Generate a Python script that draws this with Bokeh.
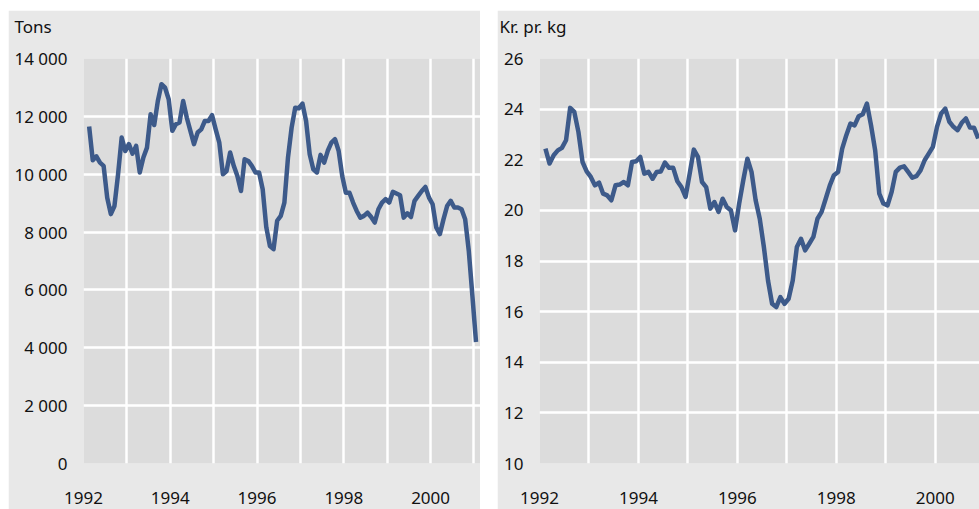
from bokeh.plotting import figure
from bokeh.models import Range1d, FixedTicker, Title
from bokeh.layouts import row
from bokeh.embed import file_html
from bokeh.resources import INLINE

# ---- data (monthly) ----
tons_start = 1992.13   # first month position (decimal year)
tons = [11650, 10480, 10620, 10400, 10290, 9190, 8620, 8900, 10000, 11270,
        10800, 11040, 10710, 10980, 10060, 10580, 10920, 12070, 11700, 12530,
        13110, 12990, 12590, 11500, 11730, 11790, 12530, 11960, 11500, 11040,
        11440, 11550, 11840, 11840, 12040, 11550, 11090, 10000, 10110, 10750,
        10290, 9940, 9420, 10520, 10460, 10290, 10060, 10060, 9480, 8160,
        7520, 7410, 8390, 8560, 9020, 10580, 11610, 12300, 12280, 12440,
        11840, 10690, 10170, 10060, 10670, 10400, 10810, 11090, 11210, 10810,
        9940, 9360, 9360, 9020, 8730, 8500, 8560, 8670, 8520, 8330,
        8790, 9020, 9140, 9020, 9390, 9330, 9270, 8500, 8650, 8520,
        9080, 9250, 9420, 9560, 9190, 8960, 8160, 7930, 8440, 8900,
        9080, 8850, 8850, 8790, 8440, 7350, 5800, 4200]

price_start = 1992.12
price = [22.44, 21.85, 22.18, 22.37, 22.47, 22.77, 24.05, 23.89, 23.10, 21.91,
         21.54, 21.32, 20.99, 21.10, 20.66, 20.59, 20.40, 20.99, 21.02, 21.12,
         20.99, 21.91, 21.94, 22.11, 21.45, 21.52, 21.25, 21.52, 21.54, 21.89,
         21.68, 21.68, 21.15, 20.92, 20.53, 21.45, 22.40, 22.11, 21.12, 20.92,
         20.07, 20.33, 19.94, 20.46, 20.13, 20.00, 19.21, 20.27, 21.19, 22.04,
         21.52, 20.40, 19.67, 18.55, 17.23, 16.31, 16.18, 16.57, 16.31, 16.51,
         17.23, 18.55, 18.88, 18.42, 18.68, 18.95, 19.67, 19.94, 20.46, 20.99,
         21.39, 21.52, 22.44, 22.97, 23.43, 23.36, 23.72, 23.80, 24.22, 23.36,
         22.37, 20.66, 20.27, 20.20, 20.73, 21.52, 21.69, 21.74, 21.52, 21.29,
         21.35, 21.58, 21.98, 22.24, 22.51, 23.30, 23.82, 24.02, 23.50, 23.30,
         23.17, 23.46, 23.63, 23.27, 23.26, 22.84]

x_label_years = [1992, 1994, 1996, 1998, 2000]
x_grid_years = [1993, 1995, 1997, 1999, 2001]
tons_ticks = [0, 2000, 4000, 6000, 8000, 10000, 12000, 14000]
tons_tick_labels = ["0", "2 000", "4 000", "6 000", "8 000", "10 000", "12 000", "14 000"]
price_ticks = [10, 12, 14, 16, 18, 20, 22, 24, 26]
left_title = "Tons"
right_title = "Kr. pr. kg"

# ---- style ----
FONT = "Noto Sans"
LINE = "#3d5a8a"
OUTER = "#e8e8e8"
INNER = "#dcdcdc"
TXT = "#111111"


def make_panel(xs, ys, x_end, y_rng, yticks, yover, width, left_border, title, title_dx):
    p = figure(width=width, height=499, title=None,
               x_range=Range1d(1992, x_end), y_range=Range1d(*y_rng),
               output_backend="svg", toolbar_location=None,
               min_border_left=left_border, min_border_right=0,
               min_border_top=48, min_border_bottom=46,
               background_fill_color=INNER, border_fill_color=OUTER,
               outline_line_color=None)
    p.line(xs, ys, line_color=LINE, line_width=4.5, line_join="round")

    # empty spacer panel next to the frame lifts the heading up
    p.add_layout(Title(text=" ", text_font=FONT, text_font_size="14px",
                       standoff=0, align="left"), "above")
    p.add_layout(Title(text=title, align="left", offset=title_dx, standoff=0,
                       text_font=FONT, text_font_size="17px",
                       text_font_style="normal", text_color=TXT), "above")

    xa = p.xaxis[0]
    xa.ticker = FixedTicker(ticks=x_label_years, minor_ticks=x_grid_years)
    ya = p.yaxis[0]
    ya.ticker = FixedTicker(ticks=yticks)
    if yover:
        ya.major_label_overrides = yover
    for ax in (xa, ya):
        ax.axis_line_color = None
        ax.major_tick_line_color = None
        ax.minor_tick_line_color = None
        ax.major_tick_out = 0
        ax.major_tick_in = 0
        ax.minor_tick_out = 0
        ax.major_label_text_font = FONT
        ax.major_label_text_font_size = "17px"
        ax.major_label_text_color = TXT
    xa.major_label_standoff = 28
    ya.major_label_standoff = 16

    p.xgrid.grid_line_color = "white"
    p.xgrid.grid_line_width = 2.5
    p.xgrid.minor_grid_line_color = "white"
    p.xgrid.minor_grid_line_width = 2.5
    p.ygrid.grid_line_color = "white"
    p.ygrid.grid_line_width = 2.5
    return p


tons_x = [tons_start + i / 12 for i in range(len(tons))]
price_x = [price_start + i / 12 for i in range(len(price))]

p1 = make_panel(tons_x, tons, 2001.15, (0, 14000), tons_ticks,
                dict(zip(tons_ticks, tons_tick_labels)), 472, 75, left_title, -69)
p2 = make_panel(price_x, price, 2000.896, (10, 26), price_ticks,
                None, 482, 42, right_title, -40)

layout = row(p1, p2, spacing=17, margin=(10, 0, 0, 8))

open("out.html", "w").write(file_html(layout, INLINE))
